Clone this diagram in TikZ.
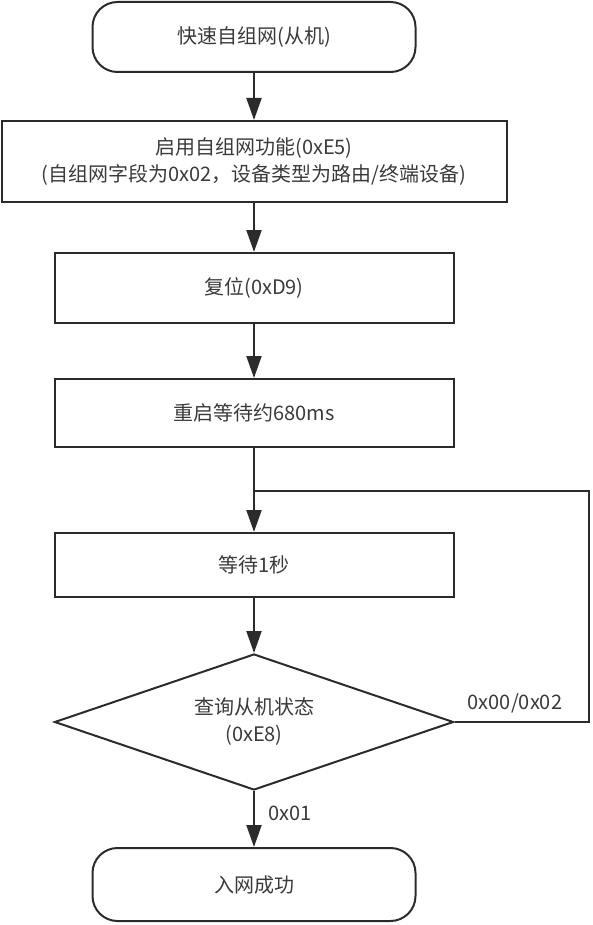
\documentclass[tikz,border=0pt]{standalone}
\usepackage{fontspec}
\setmainfont{Noto Sans CJK SC}
\usetikzlibrary{shapes.geometric,arrows.meta}
\definecolor{ln}{HTML}{2B2B2B}
\definecolor{tx}{HTML}{3A3A3A}
\begin{document}
\begin{tikzpicture}[x=1pt,y=-1pt,
  base/.style={draw=ln, line width=2pt, text=tx, font=\fontsize{20}{27}\selectfont, align=center, inner sep=0pt},
  term/.style={base, rounded corners=25pt, minimum width=323pt},
  proc/.style={base, minimum width=399pt},
  dec/.style={base, diamond, aspect=2.93, minimum width=399pt, minimum height=136pt},
  arr/.style={-{Triangle[length=22pt,width=15pt]}, draw=ln, line width=2pt},
  conn/.style={draw=ln, line width=2pt},
  lbl/.style={text=tx, font=\fontsize{20}{27}\selectfont, inner sep=0pt}
]
\useasboundingbox (0,0) rectangle (592,925);
\node[term, minimum height=70pt] (start) at (254,37) {快速自组网(从机)};
\node[base, minimum width=505pt, minimum height=81pt] (b2) at (254,161.5) {启用自组网功能(0xE5)\\(自组网字段为0x02，设备类型为路由/终端设备)};
\node[proc, minimum height=70pt] (b3) at (254,288) {复位(0xD9)};
\node[proc, minimum height=68pt] (b4) at (254,413) {重启等待约680ms};
\node[proc, minimum height=64pt] (b5) at (254,565) {等待1秒};
\node[dec] (dec) at (254,722) {查询从机状态\\(0xE8)};
\node[term, minimum height=73pt] (end) at (254,884.5) {入网成功};
\coordinate (lr) at (589,491);
\coordinate (mg) at (254,491);
\draw[arr] (start) -- (b2);
\draw[arr] (b2) -- (b3);
\draw[arr] (b3) -- (b4);
\draw[arr] (b4) -- (b5);
\draw[arr] (b5) -- (dec);
\draw[arr] (dec) -- (end);
\draw[conn] (dec.east) -| (lr) -- (mg);
\node[lbl] (l1) at (515,703) {0x00/0x02};
\node[lbl] (l2) at (290,813) {0x01};
\end{tikzpicture}
\end{document}
